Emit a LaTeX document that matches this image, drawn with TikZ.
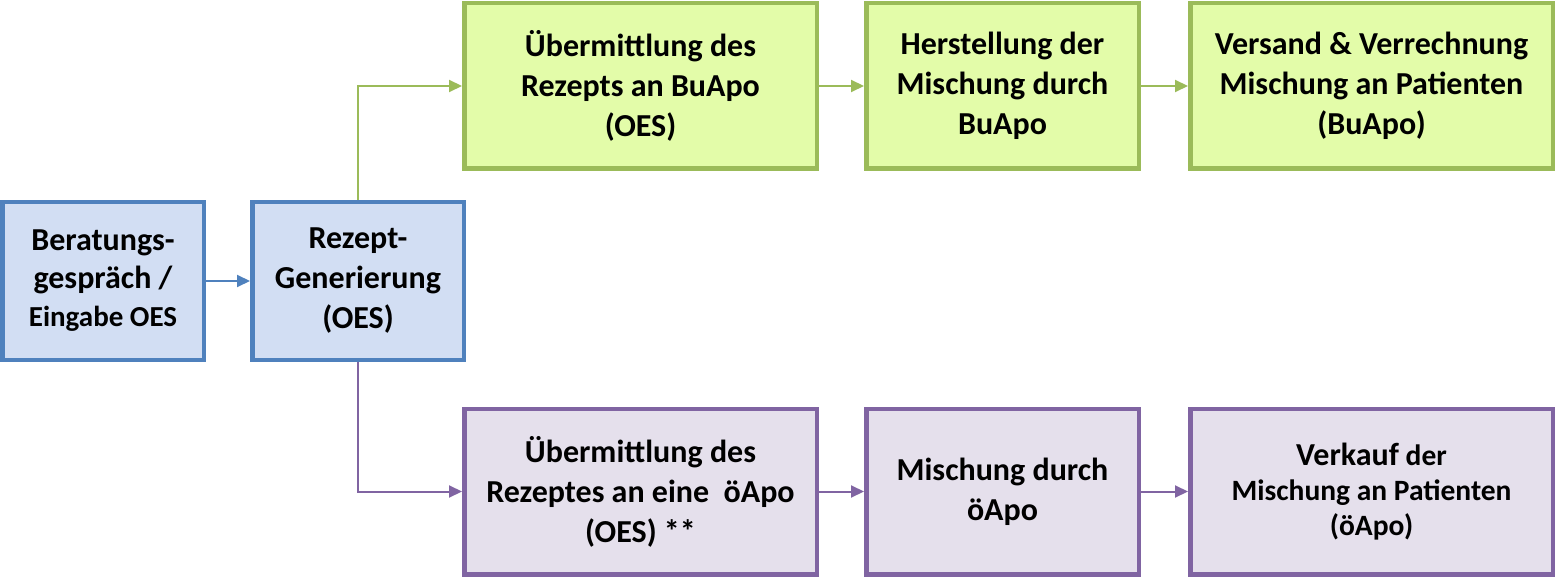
\documentclass[tikz,border=0pt]{standalone}
\usepackage{fontspec}
\setmainfont{Carlito}
\usetikzlibrary{arrows.meta}
\definecolor{bblue}{HTML}{4F81BD}
\definecolor{fblue}{HTML}{D2DEF3}
\definecolor{bgreen}{HTML}{9BBB59}
\definecolor{fgreen}{HTML}{E3FCA9}
\definecolor{bpurple}{HTML}{8064A2}
\definecolor{fpurple}{HTML}{E5E0EC}
\begin{document}
\begin{tikzpicture}[x=1pt,y=-1pt,
  box/.style={draw,line width=4.5pt,align=center,inner sep=0pt,
    font=\bfseries\fontsize{32}{40}\selectfont},
  bluebox/.style={box,draw=bblue,fill=fblue,minimum height=157.5pt},
  greenbox/.style={box,draw=bgreen,fill=fgreen,minimum height=165.5pt},
  purplebox/.style={box,draw=bpurple,fill=fpurple,minimum height=165.5pt},
  conn/.style={line width=2pt,-{Triangle[length=13pt,width=12pt]}}]
\useasboundingbox (0,0) rectangle (1555,577);
\node[bluebox,minimum width=201.5pt,font=\bfseries\fontsize{32}{38}\selectfont] (ber) at (103,281) {Beratungs-\\gespräch /\\{\fontsize{29}{38}\selectfont Eingabe OES}};
\node[bluebox,minimum width=211.5pt] (rez) at (358,281) {Rezept-\\Generierung\\(OES)};
\node[greenbox,minimum width=352.5pt] (g1) at (640.5,86) {Übermittlung des\\Rezepts an BuApo\\(OES)};
\node[greenbox,minimum width=272.5pt] (g2) at (1002.5,86) {Herstellung der\\Mischung durch\\BuApo};
\node[greenbox,minimum width=362.5pt] (g3) at (1371.5,86) {Versand \& Verrechnung\\Mischung an Patienten\\(BuApo)};
\node[purplebox,minimum width=352.5pt] (p1) at (640.5,491.5) {Übermittlung des\\Rezeptes an eine\ \ öApo\\(OES) **};
\node[purplebox,minimum width=272.5pt] (p2) at (1002.5,491.5) {Mischung durch\\öApo};
\node[purplebox,minimum width=362.5pt,font=\bfseries\fontsize{29.5}{35}\selectfont] (p3) at (1371.5,491.5) {{\fontsize{32}{35}\selectfont Verkauf} der\\Mischung an Patienten\\(öApo)};
\draw[conn,bblue] (ber.east) -- (rez.west);
\draw[conn,bgreen] (rez.north) |- (g1.west);
\draw[conn,bgreen] (g1.east) -- (g2.west);
\draw[conn,bgreen] (g2.east) -- (g3.west);
\draw[conn,bpurple] (rez.south) |- (p1.west);
\draw[conn,bpurple] (p1.east) -- (p2.west);
\draw[conn,bpurple] (p2.east) -- (p3.west);
\end{tikzpicture}
\end{document}
